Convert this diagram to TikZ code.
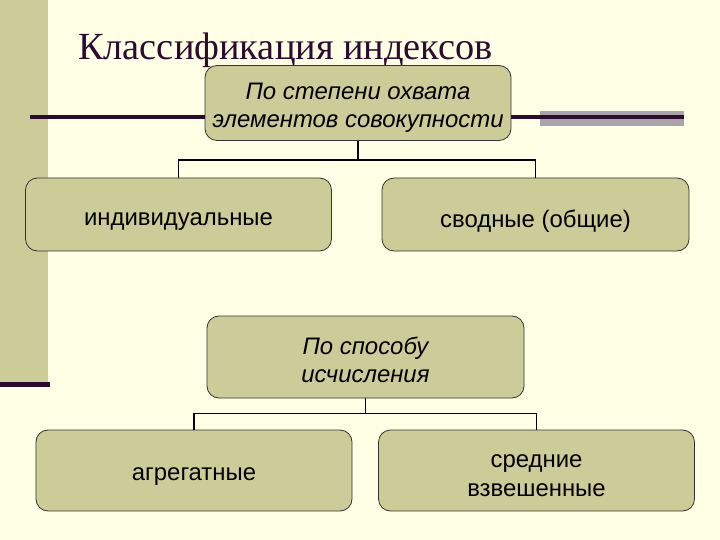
\documentclass[tikz,border=0pt]{standalone}
\usepackage{fontspec}
\setmainfont{Liberation Serif}
\newfontfamily\boxfont{Liberation Sans}
\definecolor{bgcol}{HTML}{FFFFE6}
\definecolor{boxfill}{HTML}{CCCC99}
\definecolor{barcol}{HTML}{CCCC99}
\definecolor{darkp}{HTML}{2E0B2E}
\definecolor{bandgray}{HTML}{A9A4AB}
\tikzset{
  cbox/.style={draw=black!80, line width=0.8bp, fill=boxfill, rounded corners=12bp, inner sep=0pt},
  btext/.style={align=center, inner sep=0pt, font=\boxfont\fontsize{24}{28.5}\selectfont},
  itext/.style={btext, font=\boxfont\itshape\fontsize{24}{28.5}\selectfont},
  conn/.style={draw=black, line width=1.6bp},
  decoline/.style={draw=darkp, line width=3.5bp}
}
\begin{document}
\begin{tikzpicture}[x=1bp,y=-1bp]
\fill[bgcol] (0,0) rectangle (720,540);
\useasboundingbox (0,0) rectangle (720,540);
% left bar
\fill[barcol] (0,0) rectangle (48,383);
\fill[darkp] (0,382) rectangle (50,387);
% title
\node[anchor=base west, inner sep=0pt, text=darkp, font=\fontsize{38.5}{44}\selectfont] (title) at (78,60) {Классификация индексов};
% decorative lines
\coordinate (l1) at (30,117);
\coordinate (r1) at (684,117);
\fill[bandgray] (540,111) rectangle (684,126);
% boxes
\node[cbox, minimum width=306bp, minimum height=75bp] (b1) at (358,103) {};
\node[cbox, minimum width=306bp, minimum height=73bp] (b2) at (178.5,214.5) {};
\node[cbox, minimum width=307bp, minimum height=73bp] (b3) at (535.5,214.5) {};
\node[cbox, minimum width=317bp, minimum height=82bp] (b4) at (365.5,357) {};
\node[cbox, minimum width=316bp, minimum height=81bp] (b5) at (194,470.5) {};
\node[cbox, minimum width=316bp, minimum height=81bp] (b6) at (536.5,470.5) {};
% texts
\node[itext] (t1) at ([yshift=-5bp]b1.center) {По степени охвата\\элементов совокупности};
\node[btext] (t2) at ([yshift=-7bp]b2.center) {индивидуальные};
\node[btext] (t3) at ([yshift=-7bp]b3.center) {сводные (общие)};
\node[itext] (t4) at ([yshift=-3bp]b4.center) {По способу\\исчисления};
\node[btext] (t5) at ([yshift=-6bp]b5.center) {агрегатные};
\node[btext] (t6) at ([yshift=-5bp]b6.center) {средние\\взвешенные};
\draw[decoline] (l1) -- (l1 -| b1.west);
\draw[decoline] (r1 -| b1.east) -- (r1);
% connectors
\draw[conn] (b1.south) -- ++(0,19) coordinate (j1) -| (b2.north);
\draw[conn] (j1) -| (b3.north);
\draw[conn] (b4.south) -- ++(0,15) coordinate (j2) -| (b5.north);
\draw[conn] (j2) -| (b6.north);
\end{tikzpicture}
\end{document}
